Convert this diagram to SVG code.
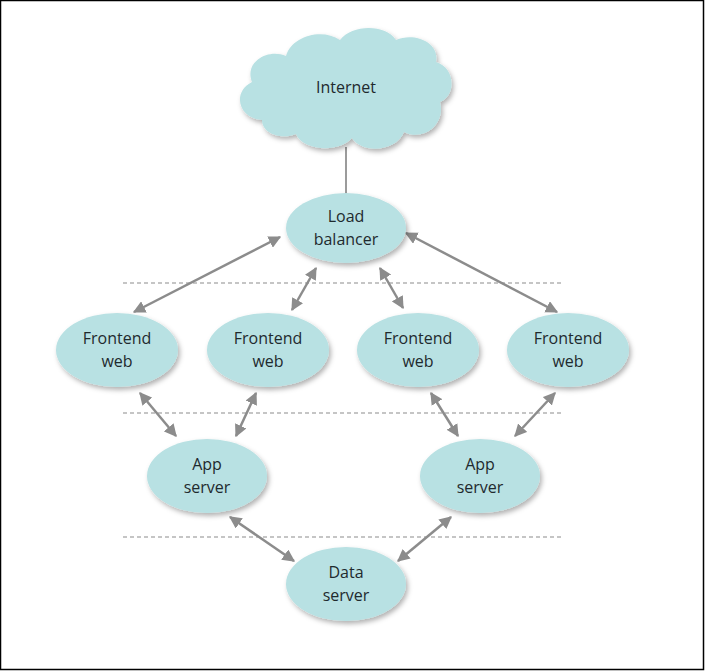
<svg xmlns="http://www.w3.org/2000/svg" width="705" height="671" viewBox="0 0 705 671">
<style>
.node{fill:#b8e1e3;filter:url(#sh)}
.t{font-family:"Open Sans","Liberation Sans",sans-serif;font-size:16px;fill:#1f2a2e;text-anchor:middle}
.c{stroke:#8c8c8c;stroke-width:2.5;fill:none;marker-start:url(#a);marker-end:url(#a)}
.d{stroke:#8c8c8c;stroke-width:1.2;stroke-dasharray:4 3}
</style>
<defs>
<filter id="sh" x="-20%" y="-20%" width="150%" height="150%">
<feDropShadow dx="2" dy="3" stdDeviation="2.5" flood-color="#000" flood-opacity="0.3"/>
</filter>
<marker id="a" viewBox="0 0 10 10" refX="9" refY="5" markerWidth="5" markerHeight="5" orient="auto-start-reverse" markerUnits="strokeWidth">
<path d="M0,0 L10,5 L0,10 z" fill="#8c8c8c"/>
</marker>
</defs>
<rect x="0.5" y="0.5" width="703" height="669" fill="#fff" stroke="#000" stroke-width="1.5"/>
<g id="dividers">
<line class="d" x1="123" y1="283" x2="563" y2="283"/>
<line class="d" x1="123" y1="413" x2="563" y2="413"/>
<line class="d" x1="123" y1="537" x2="563" y2="537"/>
</g>
<g id="connectors">
<line x1="346" y1="147" x2="346" y2="194" stroke="#7a7a7a" stroke-width="1.5"/>
<line class="c" x1="280" y1="237" x2="134" y2="312"/>
<line class="c" x1="316" y1="268" x2="292" y2="310"/>
<line class="c" x1="380" y1="268" x2="403" y2="308"/>
<line class="c" x1="406" y1="233" x2="557" y2="312"/>
<line class="c" x1="140" y1="393" x2="176" y2="436"/>
<line class="c" x1="256" y1="393" x2="236" y2="436"/>
<line class="c" x1="431" y1="393" x2="458" y2="436"/>
<line class="c" x1="555" y1="393" x2="515" y2="436"/>
<line class="c" x1="230" y1="517" x2="294" y2="561"/>
<line class="c" x1="451" y1="517" x2="398" y2="561"/>
</g>
<g id="internet">
<path class="node" d="M262,120 C238,118 232,92 252,82 C244,62 268,48 286,56 C292,36 322,28 340,40 C352,24 386,24 396,40 C414,32 440,42 436,62 C456,68 456,96 440,102 C446,124 424,142 404,132 C396,152 362,154 352,138 C338,154 302,150 296,134 C282,140 262,134 262,120 Z"/>
<text class="t" x="346" y="93">Internet</text>
</g>
<g id="lb">
<ellipse class="node" cx="346" cy="228" rx="60" ry="35"/>
<text class="t" x="346" y="222">Load</text>
<text class="t" x="346" y="245">balancer</text>
</g>
<g id="fe1">
<ellipse class="node" cx="117" cy="350" rx="61" ry="37"/>
<text class="t" x="117" y="344">Frontend</text>
<text class="t" x="117" y="367">web</text>
</g>
<g id="fe2">
<ellipse class="node" cx="268" cy="350" rx="61" ry="37"/>
<text class="t" x="268" y="344">Frontend</text>
<text class="t" x="268" y="367">web</text>
</g>
<g id="fe3">
<ellipse class="node" cx="418" cy="350" rx="61" ry="37"/>
<text class="t" x="418" y="344">Frontend</text>
<text class="t" x="418" y="367">web</text>
</g>
<g id="fe4">
<ellipse class="node" cx="568" cy="350" rx="61" ry="37"/>
<text class="t" x="568" y="344">Frontend</text>
<text class="t" x="568" y="367">web</text>
</g>
<g id="app1">
<ellipse class="node" cx="207" cy="476" rx="60" ry="37"/>
<text class="t" x="207" y="470">App</text>
<text class="t" x="207" y="493">server</text>
</g>
<g id="app2">
<ellipse class="node" cx="480" cy="476" rx="60" ry="37"/>
<text class="t" x="480" y="470">App</text>
<text class="t" x="480" y="493">server</text>
</g>
<g id="data">
<ellipse class="node" cx="346" cy="584" rx="60" ry="37"/>
<text class="t" x="346" y="578">Data</text>
<text class="t" x="346" y="601">server</text>
</g>
</svg>
